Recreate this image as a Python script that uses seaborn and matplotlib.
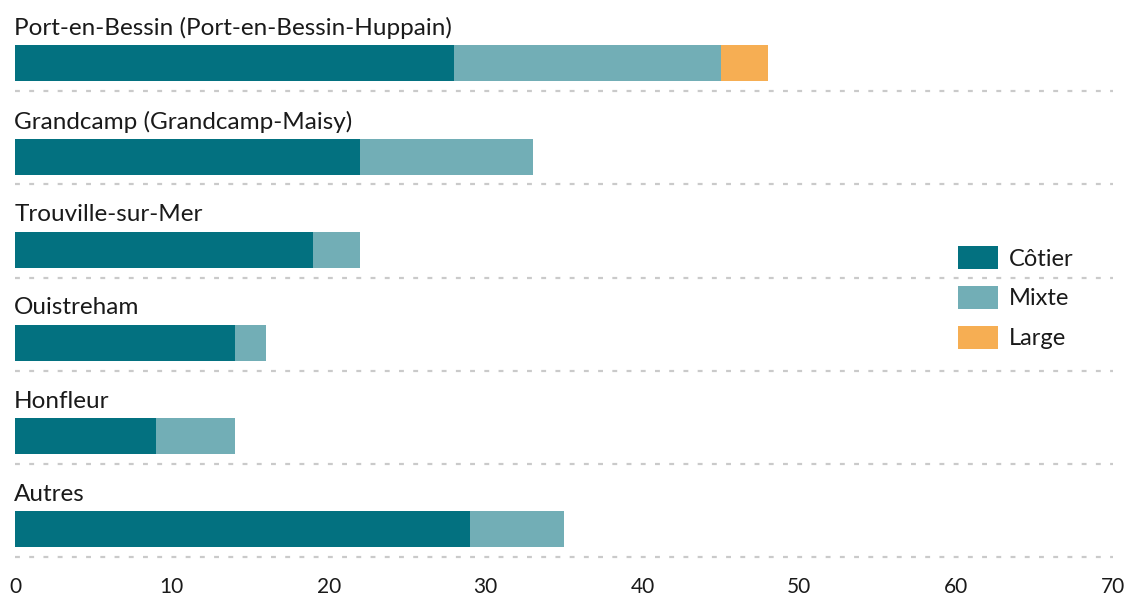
import matplotlib
matplotlib.use("Agg")
import matplotlib.pyplot as plt
from matplotlib.patches import Patch
import seaborn as sns
import pandas as pd

ports = ["Port-en-Bessin (Port-en-Bessin-Huppain)", "Grandcamp (Grandcamp-Maisy)",
         "Trouville-sur-Mer", "Ouistreham", "Honfleur", "Autres"]
cotier = [28, 22, 19, 14, 9, 29]
mixte = [17, 11, 3, 2, 5, 6]
large = [3, 0, 0, 0, 0, 0]
series_names = ["Côtier", "Mixte", "Large"]
colors = ["#037180", "#72aeb6", "#f6ae53"]
xticks = [0, 10, 20, 30, 40, 50, 60, 70]

sns.set_theme(style="white")
plt.rcParams['font.family'] = ['Lato', 'DejaVu Sans']

df = pd.DataFrame({"port": ports, "cotier": cotier, "mixte": mixte, "large": large})
df["cm"] = df["cotier"] + df["mixte"]
df["total"] = df["cm"] + df["large"]

fig = plt.figure(figsize=(11.3, 6.04), dpi=100)
ax = fig.add_axes([15/1130, 45/604, (1113-15)/1130, 559/604])

bw = 0.386
sns.barplot(data=df, x="total", y="port", orient="h", color=colors[2], width=bw, ax=ax,
            saturation=1, order=ports)
sns.barplot(data=df, x="cm", y="port", orient="h", color=colors[1], width=bw, ax=ax,
            saturation=1, order=ports)
sns.barplot(data=df, x="cotier", y="port", orient="h", color=colors[0], width=bw, ax=ax,
            saturation=1, order=ports)

for p in ax.patches:
    p.set_edgecolor("none")
    p.set_linewidth(0)

for i, name in enumerate(ports):
    ax.text(-0.05, i - 0.375, name, va="center", ha="left", fontsize=17.5, color="#1a1a1a")
    ax.axhline(i + 0.3, color="#cacaca", linewidth=1.6, linestyle=(0, (2.2, 4.2)))

ax.set_xlim(0, 70)
ax.set_ylim(5.32, -0.68)
ax.set_yticks([])
ax.set_xticks(xticks)
ax.set_xticklabels([str(t) for t in xticks], fontsize=15, color="#1a1a1a")
ax.tick_params(axis="x", length=0, pad=13)
ax.set_xlabel("")
ax.set_ylabel("")
for s in ax.spines.values():
    s.set_visible(False)

handles = [Patch(facecolor=c, edgecolor="none") for c in colors]
leg = fig.legend(handles, series_names, loc="upper left", bbox_to_anchor=(958/1130, 1 - 246/604),
                 frameon=False, fontsize=17, handlelength=1.7, handleheight=1.15,
                 handletextpad=0.45, labelspacing=0.68, borderaxespad=0, borderpad=0)
for t in leg.get_texts():
    t.set_color("#1a1a1a")

fig.savefig("out.png", dpi=100)
